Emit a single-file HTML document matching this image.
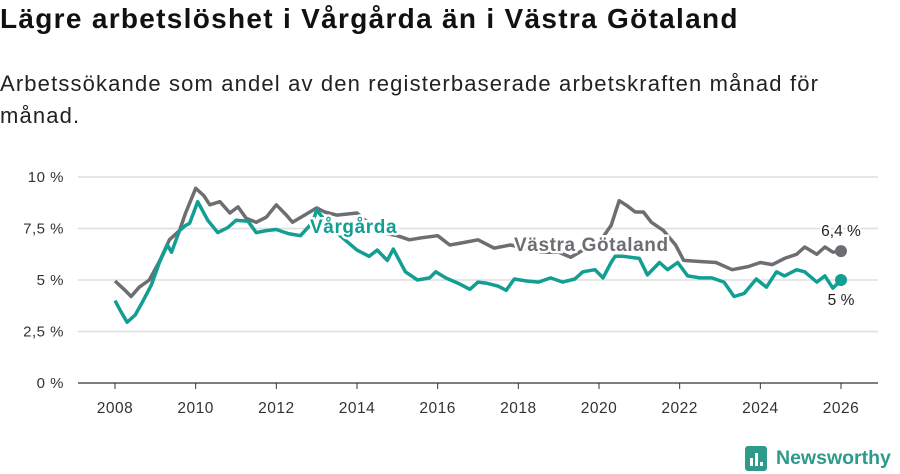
<!DOCTYPE html>
<html><head><meta charset="utf-8"><style>
body{margin:0;width:900px;height:474px;background:#fff;font-family:"Liberation Sans","DejaVu Sans",sans-serif;overflow:hidden;position:relative}
h1{position:absolute;left:0;top:3px;margin:0;font-size:28px;font-weight:bold;color:#111;letter-spacing:1.3px}
p{position:absolute;left:0;top:68px;margin:0;font-size:22px;line-height:32px;color:#222;width:850px;letter-spacing:1.15px}
svg{position:absolute;left:0;top:0}
</style></head><body>
<h1>Lägre arbetslöshet i Vårgårda än i Västra Götaland</h1>
<p>Arbetssökande som andel av den registerbaserade arbetskraften månad för månad.</p>
<svg width="900" height="474" id="chart"></svg>
<script>
const xTicks=[2008,2010,2012,2014,2016,2018,2020,2022,2024,2026];
const yTicks=[0,2.5,5,7.5,10];
const yTickLabels=["0 %","2,5 %","5 %","7,5 %","10 %"];
const vgDates=[2008,2008.25,2008.4,2008.6,2008.85,2009.1,2009.35,2009.6,2009.75,2010,2010.2,2010.35,2010.6,2010.85,2011.05,2011.25,2011.5,2011.75,2012,2012.25,2012.4,2012.7,2013,2013.2,2013.5,2014,2014.2,2014.6,2015,2015.3,2015.6,2016,2016.3,2016.6,2017,2017.4,2017.8,2018.2,2018.6,2019,2019.3,2019.6,2020,2020.3,2020.5,2020.7,2020.9,2021.1,2021.3,2021.6,2021.9,2022.1,2022.5,2022.9,2023.3,2023.7,2024,2024.3,2024.6,2024.9,2025.1,2025.4,2025.6,2025.8,2026];
const vgValues=[4.95,4.5,4.2,4.65,5.0,5.9,6.95,7.4,8.25,9.45,9.1,8.65,8.8,8.25,8.55,8.0,7.8,8.05,8.65,8.15,7.8,8.15,8.5,8.3,8.15,8.25,7.9,7.3,7.15,6.95,7.05,7.15,6.7,6.8,6.95,6.55,6.7,6.55,6.35,6.35,6.1,6.45,6.8,7.65,8.85,8.6,8.3,8.3,7.8,7.4,6.7,5.95,5.9,5.85,5.5,5.65,5.85,5.75,6.05,6.25,6.6,6.25,6.6,6.35,6.4];
const vaDates=[2008,2008.15,2008.3,2008.5,2008.7,2008.9,2009.1,2009.3,2009.4,2009.6,2009.75,2009.85,2010.05,2010.3,2010.55,2010.8,2011,2011.3,2011.5,2011.75,2012,2012.3,2012.6,2012.9,2013,2013.3,2013.7,2014,2014.3,2014.5,2014.75,2014.9,2015.2,2015.5,2015.8,2015.95,2016.2,2016.5,2016.8,2017,2017.2,2017.5,2017.7,2017.9,2018.2,2018.5,2018.8,2019.1,2019.4,2019.6,2019.9,2020.1,2020.3,2020.4,2020.6,2021,2021.2,2021.5,2021.7,2021.95,2022.2,2022.5,2022.8,2023.1,2023.35,2023.6,2023.9,2024.15,2024.4,2024.6,2024.9,2025.1,2025.4,2025.6,2025.8,2026];
const vaValues=[4.0,3.45,2.95,3.3,4.0,4.75,5.85,6.7,6.35,7.4,7.65,7.75,8.8,7.9,7.3,7.55,7.9,7.85,7.3,7.4,7.45,7.25,7.15,7.8,8.4,7.65,6.95,6.45,6.15,6.45,5.95,6.5,5.4,5.0,5.1,5.4,5.1,4.85,4.55,4.9,4.85,4.7,4.5,5.05,4.95,4.9,5.1,4.9,5.05,5.4,5.5,5.1,5.85,6.15,6.15,6.05,5.25,5.85,5.5,5.85,5.2,5.1,5.1,4.9,4.2,4.35,5.05,4.65,5.4,5.2,5.5,5.4,4.9,5.2,4.6,5.0];
const NS="http://www.w3.org/2000/svg";
const svg=document.getElementById('chart');
const X=v=>115+(v-2008)*(841-115)/18;
const Y=v=>383-v*20.6;
function el(t,a,txt){const e=document.createElementNS(NS,t);for(const k in a)e.setAttribute(k,a[k]);if(txt!==undefined)e.textContent=txt;svg.appendChild(e);return e;}
yTicks.forEach((t,i)=>{
 const g=el('line',{x1:78,x2:878,y1:Y(t),y2:Y(t),stroke:t===0?'#333':'#ddd','stroke-width':t===0?1.2:1.5});
 
 
 const l=el('text',{x:64,y:Y(t)+5,'text-anchor':'end','font-size':15,fill:'#333','letter-spacing':0.5},yTickLabels[i]);
 
 
});
xTicks.forEach(t=>{
 const k=el('line',{x1:X(t),x2:X(t),y1:383,y2:389,stroke:'#333'});
 
 
 const l=el('text',{x:X(t),y:413,'text-anchor':'middle','font-size':15.5,fill:'#333','letter-spacing':0.5},t);
 
 
});
function series(d,v,c,name){
 const p=el('path',{d:d.map((x,i)=>(i?'L':'M')+X(x).toFixed(1)+','+Y(v[i]).toFixed(1)).join(''),fill:'none',stroke:c,'stroke-width':3.5,'stroke-linejoin':'round'});
 
 
 const n=d.length-1;
 const c2=el('circle',{cx:X(d[n]),cy:Y(v[n]),r:6,fill:c});
 
 
 return v[n];
}
const g1=series(vgDates,vgValues,'#6e6d72','vastra-gotaland');
const g2=series(vaDates,vaValues,'#129e93','vargarda');
const fmt=v=>String(Math.round(v*10)/10).replace('.',',')+' %';
let t=el('text',{x:X(2026),y:Y(g1)-15,'text-anchor':'middle','font-size':15.5,fill:'#222',stroke:'#fff','stroke-width':4,'paint-order':'stroke'},fmt(g1));


t=el('text',{x:X(2026),y:Y(g2)+25,'text-anchor':'middle','font-size':15.5,fill:'#222',stroke:'#fff','stroke-width':4,'paint-order':'stroke'},fmt(g2));


t=el('text',{x:310,y:233,'font-size':19,'font-weight':'bold',fill:'#129e93',stroke:'#fff','stroke-width':5,'paint-order':'stroke','letter-spacing':0.6},'Vårgårda');


t=el('text',{x:514,y:251,'font-size':19,'font-weight':'bold',fill:'#6e6d72',stroke:'#fff','stroke-width':5,'paint-order':'stroke','letter-spacing':0.6},'Västra Götaland');


const r=el('rect',{x:745,y:446,width:22,height:25,rx:3,fill:'#2e9a8a'});


[[750,458,3,8],[755,453,3,13],[760,462,3,4]].forEach(b=>{const q=el('rect',{x:b[0],y:b[1],width:b[2],height:b[3],fill:'#fff'});});
t=el('text',{x:776,y:464,'font-size':19.5,'font-weight':'bold',fill:'#2e9a8a'},'Newsworthy');


</script>
</body></html>
